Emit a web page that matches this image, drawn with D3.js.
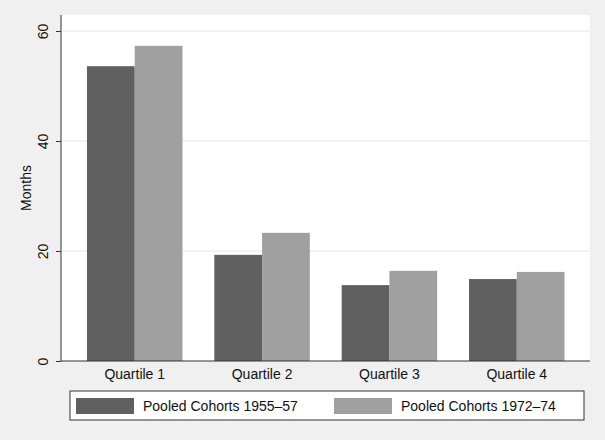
<!DOCTYPE html>
<html><head><meta charset="utf-8">
<script src="https://cdn.jsdelivr.net/npm/d3@7"></script>
<style>body{margin:0;background:#f0f0f0;font-family:"Liberation Sans",Arial,sans-serif;}</style>
</head><body>
<svg id="chart" width="605" height="440"></svg>
<script>
var categories = ["Quartile 1", "Quartile 2", "Quartile 3", "Quartile 4"];
var series = ["Pooled Cohorts 1955\u201357", "Pooled Cohorts 1972\u201374"];
var early = [53.6, 19.3, 13.8, 14.9];
var late = [57.3, 23.3, 16.4, 16.2];
var yTicks = [0, 20, 40, 60];
var colors = ["#606060", "#a0a0a0"];

var svg = d3.select("#chart");
var pLeft = 61, pRight = 590, pTop = 15, pBottom = 361;

svg.append("rect").attr("x", pLeft).attr("y", pTop)
   .attr("width", pRight - pLeft).attr("height", pBottom - pTop).attr("fill", "white");

var y = d3.scaleLinear().domain([0, 60]).range([pBottom, 31]);
var x = d3.scaleBand().domain(categories).range([pLeft + 0.5, pRight]).paddingInner(0.25).paddingOuter(0.2);
var xs = d3.scaleBand().domain([0, 1]).range([0, x.bandwidth()]);

svg.selectAll(".grid").data(yTicks.slice(1)).enter().append("line")
   .attr("x1", pLeft).attr("x2", pRight).attr("y1", y).attr("y2", y)
   .attr("stroke", "#e6e6e6").attr("stroke-width", 1);

[early, late].forEach(function(vals, s) {
	svg.selectAll(".bar" + s).data(vals).enter().append("rect")
	   .attr("x", function(d, i) { return x(categories[i]) + xs(s); })
	   .attr("width", xs.bandwidth())
	   .attr("y", function(d) { return y(d); })
	   .attr("height", function(d) { return pBottom - y(d); })
	   .attr("fill", colors[s]);
});

var yAxis = svg.append("g").attr("transform", "translate(" + pLeft + ",0)")
   .call(d3.axisLeft(y).tickValues(yTicks).tickSize(5).tickPadding(4));
yAxis.select(".domain").attr("d", "M0," + pTop + "V" + pBottom).attr("stroke", "#333");
yAxis.selectAll(".tick line").attr("stroke", "#333");
yAxis.selectAll("text").attr("transform", "rotate(-90)").attr("x", 0).attr("y", -13)
   .attr("dy", "0").style("text-anchor", "middle").attr("font-size", 14).attr("fill", "#111")
   .attr("font-family", "Liberation Sans, Arial, sans-serif");

var xAxis = svg.append("g").attr("transform", "translate(0," + pBottom + ")")
   .call(d3.axisBottom(x).tickSize(0).tickPadding(8));
xAxis.select(".domain").attr("d", "M" + pLeft + ",0H" + pRight).attr("stroke", "#333");
xAxis.selectAll("text").attr("font-size", 14).attr("fill", "#111")
   .attr("font-family", "Liberation Sans, Arial, sans-serif");

svg.append("text").attr("transform", "translate(31," + ((pTop + pBottom) / 2) + ") rotate(-90)")
   .attr("text-anchor", "middle").attr("font-size", 14).attr("fill", "#111").text("Months");

var lg = svg.append("g");
lg.append("rect").attr("x", 70).attr("y", 391).attr("width", 514).attr("height", 29)
  .attr("fill", "white").attr("stroke", "#333");
var lx = [76, 334];
series.forEach(function(name, s) {
	lg.append("rect").attr("x", lx[s]).attr("y", 398).attr("width", 58).attr("height", 16).attr("fill", colors[s]);
	lg.append("text").attr("x", lx[s] + 67).attr("y", 411).attr("font-size", 14).attr("fill", "#111").text(name);
});
</script>
</body></html>
